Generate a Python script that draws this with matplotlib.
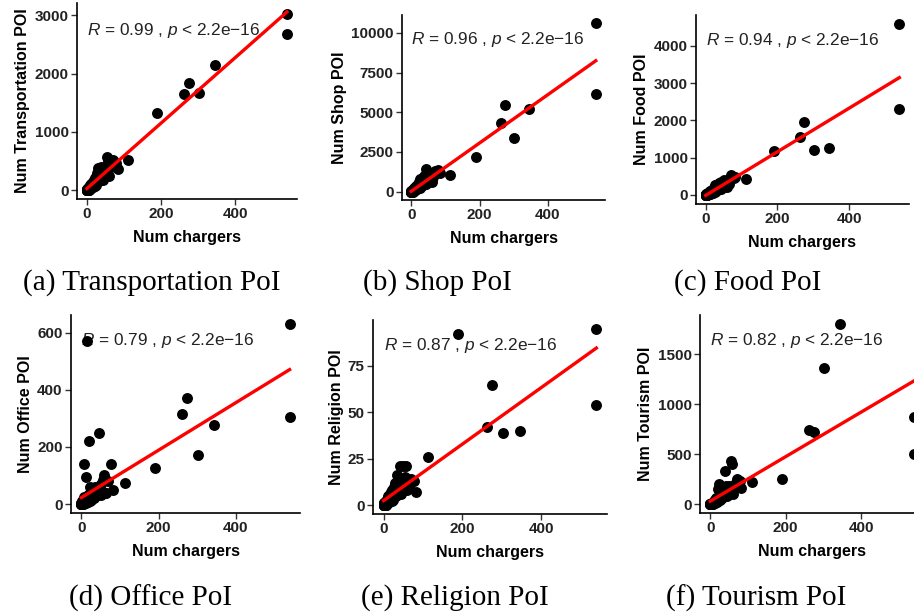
import numpy as np
import matplotlib
matplotlib.use("Agg")
import matplotlib.pyplot as plt

plt.rcParams['font.family'] = ['Liberation Sans', 'DejaVu Sans']
plt.rcParams['mathtext.fontset'] = 'custom'
plt.rcParams['mathtext.rm'] = 'Liberation Sans'
plt.rcParams['mathtext.it'] = 'Liberation Sans:italic'

# number of chargers per region (shared x for all panels)
chargers = [540, 540, 345, 302, 275, 262, 190, 112, 83, 78, 70, 65, 58, 55, 52, 48,
            45, 42, 40, 38, 35, 33, 30, 28, 26, 24, 22, 20, 18, 16, 15, 14, 12, 11,
            10, 9, 8, 7, 6, 5, 4, 3, 2, 2, 1, 1, 0, 0,
            60, 50, 44, 36, 32, 27, 25, 23, 21, 19, 17, 13, 11, 9, 8, 7,
            6, 5, 5, 4, 4, 3, 3, 2, 2, 1, 1, 1, 0, 0, 0, 0]

transport = [3030, 2690, 2150, 1670, 1840, 1650, 1330, 510, 370, 470, 520, 400, 510, 570,
             300, 330, 250, 380, 200, 400, 300, 220, 380, 160, 250, 120, 200, 110, 170, 80,
             130, 60, 100, 50, 80, 40, 60, 30, 45, 20, 35, 15, 10, 25, 5, 15, 0, 10,
             250, 420, 180, 320, 150, 300, 90, 220, 70, 150, 50, 120, 30, 80, 20, 50,
             10, 40, 5, 20, 0, 15, 0, 5, 0, 3, 0, 8, 0, 2, 0, 5]
shop = [10600, 6150, 5200, 3350, 5450, 4300, 2200, 1050, 1200, 1350, 1300, 900, 800, 1000,
        700, 600, 900, 1400, 500, 800, 600, 400, 700, 350, 500, 300, 450, 250, 350, 200,
        280, 150, 200, 120, 160, 90, 130, 70, 100, 50, 80, 30, 20, 60, 10, 30, 0, 20,
        600, 1200, 500, 1000, 400, 800, 250, 600, 200, 450, 150, 350, 90, 250, 60, 150,
        30, 120, 10, 60, 0, 40, 0, 15, 0, 10, 0, 25, 0, 5, 0, 15]
food = [4600, 2300, 1250, 1200, 1950, 1550, 1180, 420, 480, 450, 530, 300, 250, 300, 200,
        220, 250, 350, 150, 330, 200, 150, 250, 100, 180, 90, 150, 70, 120, 60, 90, 40, 70,
        30, 50, 25, 40, 20, 30, 15, 25, 10, 5, 15, 3, 8, 0, 5,
        200, 400, 150, 300, 120, 250, 80, 180, 60, 130, 40, 100, 25, 70, 15, 40,
        8, 30, 3, 15, 0, 10, 0, 4, 0, 2, 0, 6, 0, 2, 0, 4]
office = [630, 305, 275, 170, 370, 315, 125, 75, 50, 140, 80, 40, 100, 85, 30, 40, 250, 60,
          45, 35, 50, 20, 45, 25, 40, 15, 60, 220, 30, 20, 570, 10, 95, 25, 15, 20, 140, 10,
          25, 5, 15, 3, 2, 10, 1, 5, 0, 3,
          40, 70, 30, 60, 25, 45, 15, 35, 10, 30, 8, 25, 5, 15, 3, 10,
          2, 6, 0, 3, 0, 2, 0, 1, 0, 0, 0, 2, 0, 0, 0, 1]
religion = [95, 54, 40, 39, 65, 42, 92, 26, 7, 13, 14, 10, 21, 15, 8, 21, 12, 21, 9, 14, 8,
            16, 12, 6, 10, 5, 8, 4, 7, 3, 6, 2, 5, 2, 4, 1, 3, 1, 2, 0, 1, 0, 0, 1, 0, 1, 0, 0,
            8, 14, 6, 10, 5, 9, 3, 7, 2, 6, 2, 5, 1, 3, 1, 2,
            0, 1, 0, 1, 0, 0, 0, 0, 0, 0, 0, 1, 0, 0, 0, 0]
tourism = [870, 500, 1800, 1360, 720, 740, 250, 220, 160, 230, 250, 200, 400, 430, 150, 120,
           100, 180, 330, 90, 80, 150, 60, 110, 50, 200, 40, 150, 30, 60, 20, 40, 15, 30, 10,
           25, 8, 15, 5, 10, 3, 5, 1, 3, 0, 2, 0, 1,
           100, 180, 80, 130, 60, 100, 40, 80, 30, 60, 20, 40, 10, 25, 5, 15,
           3, 10, 0, 5, 0, 3, 0, 1, 0, 0, 0, 2, 0, 0, 0, 1]

ylabels = ["Num Transportation POI", "Num Shop POI", "Num Food POI",
           "Num Office POI", "Num Religion POI", "Num Tourism POI"]
r_values = ["0.99", "0.96", "0.94", "0.79", "0.87", "0.82"]
yticks = [[0, 1000, 2000, 3000], [0, 2500, 5000, 7500, 10000], [0, 1000, 2000, 3000, 4000],
          [0, 200, 400, 600], [0, 25, 50, 75], [0, 500, 1000, 1500]]
captions = ["(a) Transportation PoI", "(b) Shop PoI", "(c) Food PoI",
            "(d) Office PoI", "(e) Religion PoI", "(f) Tourism PoI"]
series = [transport, shop, food, office, religion, tourism]

# axes boxes in pixels: left, top, right, bottom
boxes = [(77, 3, 297, 199), (402, 15, 605, 200), (696, 15, 909, 204),
         (71, 315, 300, 513), (373, 320, 607, 514), (700, 315, 924, 513)]
cap_pos = [(152, 283), (437, 283), (748, 283), (151, 598), (455, 598), (756, 598)]

W, H = 914, 614
fig = plt.figure(figsize=(W / 100, H / 100), dpi=100)

x = np.array(chargers, dtype=float)
for i in range(6):
    l, t, r, b = boxes[i]
    ax = fig.add_axes([l / W, 1 - b / H, (r - l) / W, (b - t) / H])
    y = np.array(series[i], dtype=float)
    ax.scatter(x, y, s=62, color='black', zorder=2, linewidths=0)
    k, c = np.polyfit(x, y, 1)
    xs = np.array([x.min(), x.max()])
    ax.plot(xs, k * xs + c, color='#ff0000', lw=2.4, zorder=3)
    ax.margins(0.05)
    ax.set_xticks([0, 200, 400])
    ax.set_yticks(yticks[i])
    for s in ['top', 'right']:
        ax.spines[s].set_visible(False)
    for s in ['left', 'bottom']:
        ax.spines[s].set_linewidth(1.2)
    ax.tick_params(length=4, width=1, color='#333333', labelsize=11, labelcolor='#222222', pad=2)
    for lab in ax.get_xticklabels() + ax.get_yticklabels():
        lab.set_fontweight('bold')
    ax.set_xlabel("Num chargers", fontsize=11.5, fontweight='bold', labelpad=6)
    ax.set_ylabel(ylabels[i], fontsize=11.5, fontweight='bold', labelpad=3)
    ax.annotate(r"$\it{R}$ = " + r_values[i] + r" , $\it{p}$ < 2.2e−16",
                xy=(x.min(), y.max()), xytext=(0, -5), textcoords='offset points',
                fontsize=12.4, color='#222222', ha='left', va='top', zorder=1)
    cx, cy = cap_pos[i]
    fig.text(cx / W, 1 - cy / H, captions[i], fontsize=21, family='Liberation Serif',
             ha='center', va='center')

fig.savefig("out.png", dpi=100)
